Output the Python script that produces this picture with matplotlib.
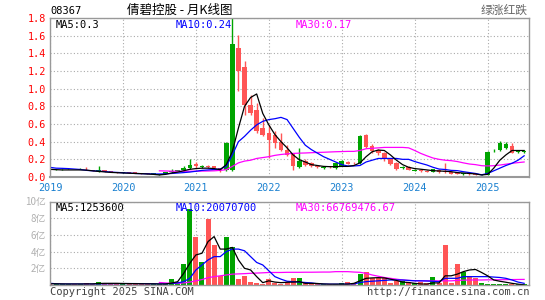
import numpy as np
import matplotlib
matplotlib.use('Agg')
from matplotlib import pyplot as plt

# monthly candles, Jan 2019 .. Jul 2025 (79 months)
opens = [0.09, 0.085, 0.088, 0.09, 0.09, 0.088, 0.095, 0.075, 0.065, 0.075,
         0.062, 0.058, 0.05, 0.054, 0.052, 0.042, 0.04, 0.035, 0.025, 0.035,
         0.06, 0.068, 0.075, 0.1, 0.15, 0.11, 0.13, 0.12, 0.1, 0.08,
         0.08, 1.46, 1.24, 0.81, 0.76, 0.55, 0.5, 0.48, 0.4, 0.31,
         0.255, 0.115, 0.18, 0.16, 0.125, 0.1, 0.12, 0.1, 0.125, 0.17,
         0.16, 0.155, 0.475, 0.35, 0.31, 0.267, 0.2, 0.16, 0.1, 0.115,
         0.07, 0.08, 0.07, 0.06, 0.08, 0.07, 0.06, 0.05, 0.03, 0.04,
         0.035, 0.022, 0.025, 0.29, 0.3, 0.33, 0.35, 0.28, 0.28]
highs = [0.095, 0.095, 0.095, 0.098, 0.094, 0.1, 0.108, 0.08, 0.12, 0.078,
         0.065, 0.06, 0.058, 0.056, 0.054, 0.045, 0.042, 0.042, 0.032, 0.062,
         0.085, 0.08, 0.125, 0.2, 0.165, 0.135, 0.14, 0.125, 0.105, 0.4,
         1.9, 1.61, 1.31, 0.93, 0.84, 0.67, 0.59, 0.52, 0.5, 0.36,
         0.27, 0.33, 0.2, 0.17, 0.135, 0.13, 0.125, 0.165, 0.19, 0.18,
         0.17, 0.47, 0.49, 0.37, 0.32, 0.28, 0.21, 0.17, 0.13, 0.12,
         0.09, 0.085, 0.075, 0.095, 0.085, 0.156, 0.065, 0.055, 0.05, 0.045,
         0.04, 0.035, 0.29, 0.32, 0.41, 0.4, 0.38, 0.31, 0.31]
lows = [0.08, 0.082, 0.083, 0.086, 0.085, 0.085, 0.08, 0.068, 0.06, 0.062,
        0.055, 0.048, 0.048, 0.048, 0.04, 0.038, 0.033, 0.033, 0.02, 0.03,
        0.05, 0.065, 0.07, 0.095, 0.1, 0.1, 0.1, 0.09, 0.06, 0.07,
        0.07, 0.975, 0.7, 0.7, 0.5, 0.46, 0.215, 0.33, 0.29, 0.234,
        0.08, 0.1, 0.12, 0.115, 0.1, 0.095, 0.1, 0.095, 0.12, 0.145,
        0.15, 0.15, 0.33, 0.27, 0.25, 0.18, 0.14, 0.08, 0.095, 0.075,
        0.065, 0.06, 0.055, 0.055, 0.05, 0.05, 0.03, 0.03, 0.025, 0.025,
        0.02, 0.02, 0.02, 0.28, 0.29, 0.32, 0.27, 0.27, 0.27]
closes = [0.085, 0.09, 0.092, 0.093, 0.088, 0.094, 0.085, 0.07, 0.075, 0.064,
          0.058, 0.05, 0.054, 0.05, 0.042, 0.04, 0.035, 0.04, 0.028, 0.06,
          0.07, 0.078, 0.1, 0.14, 0.12, 0.13, 0.11, 0.1, 0.08, 0.38,
          1.51, 1.2, 0.81, 0.72, 0.52, 0.48, 0.42, 0.385, 0.3, 0.245,
          0.12, 0.18, 0.14, 0.125, 0.11, 0.115, 0.11, 0.16, 0.18, 0.15,
          0.155, 0.463, 0.34, 0.29, 0.27, 0.2, 0.145, 0.09, 0.11, 0.08,
          0.08, 0.065, 0.06, 0.09, 0.055, 0.055, 0.035, 0.035, 0.045, 0.03,
          0.025, 0.03, 0.286, 0.3, 0.39, 0.37, 0.275, 0.29, 0.3]

ma5 = [0.087, 0.083, 0.08, 0.08, 0.08, 0.08, 0.078, 0.07, 0.063, 0.058,
       0.052, 0.049, 0.046, 0.043, 0.04, 0.038, 0.034, 0.03, 0.023, 0.03,
       0.045, 0.055, 0.071, 0.087, 0.095, 0.1, 0.1, 0.095, 0.083, 0.14,
       0.29, 0.555, 0.8, 0.9, 0.94, 0.72, 0.59, 0.48, 0.4, 0.33,
       0.25, 0.196, 0.17, 0.14, 0.13, 0.12, 0.117, 0.117, 0.12, 0.12,
       0.13, 0.16, 0.23, 0.286, 0.305, 0.3, 0.25, 0.19, 0.14, 0.11,
       0.095, 0.088, 0.08, 0.072, 0.068, 0.065, 0.06, 0.05, 0.045, 0.04,
       0.035, 0.023, 0.03, 0.1, 0.19, 0.25, 0.3, 0.3, 0.3]
ma10 = [0.109, 0.1, 0.098, 0.095, 0.09, 0.085, 0.075, 0.07, 0.066, 0.062,
        0.055, 0.052, 0.048, 0.045, 0.04, 0.038, 0.036, 0.034, 0.034, 0.036,
        0.04, 0.045, 0.05, 0.056, 0.065, 0.075, 0.08, 0.085, 0.09, 0.12,
        0.25, 0.4, 0.46, 0.53, 0.59, 0.63, 0.65, 0.66, 0.675, 0.65,
        0.55, 0.45, 0.36, 0.31, 0.27, 0.23, 0.2, 0.17, 0.14, 0.124,
        0.125, 0.13, 0.17, 0.19, 0.21, 0.21, 0.21, 0.21, 0.2, 0.2,
        0.175, 0.155, 0.136, 0.11, 0.09, 0.085, 0.075, 0.072, 0.06, 0.05,
        0.04, 0.025, 0.04, 0.07, 0.1, 0.13, 0.155, 0.19, 0.24]
ma30 = [np.nan] * 18 + [
        0.07, 0.068, 0.066, 0.065, 0.065, 0.065, 0.066, 0.067, 0.068, 0.07,
        0.075, 0.083, 0.12, 0.16, 0.18, 0.19, 0.21, 0.22, 0.23, 0.245,
        0.255, 0.262, 0.267, 0.27, 0.272, 0.275, 0.278, 0.28, 0.283, 0.286,
        0.288, 0.29, 0.29, 0.3, 0.32, 0.325, 0.33, 0.335, 0.335, 0.335,
        0.335, 0.33, 0.3, 0.267, 0.24, 0.215, 0.2, 0.19, 0.185, 0.175,
        0.16, 0.147, 0.14, 0.128, 0.125, 0.128, 0.135, 0.145, 0.155, 0.163,
        0.17]

# volume in 亿
volume = [0.2, 0.1, 0.1, 0.1, 0.1, 0.15, 0.2, 0.1, 0.35, 0.25,
          0.15, 0.15, 0.1, 0.2, 0.2, 0.1, 0.1, 0.12, 0.1, 0.15,
          0.68, 0.4, 2.48, 9.07, 5.7, 2.7, 7.87, 4.8, 1.12, 5.75,
          4.5, 0.68, 1.08, 0.32, 0.2, 0.15, 0.68, 0.2, 0.12, 0.3,
          0.88, 0.8, 0.2, 0.2, 0.15, 0.12, 0.1, 0.1, 0.2, 0.33,
          0.25, 1.28, 1.52, 0.88, 0.88, 0.8, 0.2, 0.5, 0.5, 0.3,
          0.2, 0.3, 0.2, 0.99, 0.2, 4.75, 0.2, 2.48, 1.52, 1.12,
          0.8, 0.2, 0.1, 0.1, 0.1, 0.1, 0.1, 0.15, 0.1]
vma5 = [0.15, 0.14, 0.13, 0.12, 0.12, 0.12, 0.13, 0.13, 0.18, 0.2,
        0.2, 0.2, 0.18, 0.17, 0.16, 0.15, 0.14, 0.14, 0.12, 0.12,
        0.23, 0.4, 1.4, 2.6, 3.6, 3.8, 5.2, 5.8, 4.3, 4.3,
        4.5, 3.0, 2.0, 1.8, 1.0, 0.28, 0.5, 0.35, 0.28, 0.33,
        0.35, 0.4, 0.2, 0.2, 0.18, 0.12, 0.1, 0.1, 0.1, 0.1,
        0.2, 0.5, 0.8, 0.85, 0.88, 0.85, 0.7, 0.55, 0.35, 0.3,
        0.2, 0.12, 0.1, 0.25, 0.25, 1.1, 1.1, 1.3, 1.6, 1.8,
        1.86, 1.5, 1.1, 0.6, 0.45, 0.33, 0.2, 0.1, 0.0125]
vma10 = [0.2, 0.15, 0.12, 0.12, 0.12, 0.12, 0.12, 0.12, 0.13, 0.14,
         0.15, 0.16, 0.17, 0.17, 0.17, 0.16, 0.15, 0.14, 0.13, 0.13,
         0.18, 0.25, 0.4, 0.8, 1.8, 2.4, 3.0, 3.4, 3.4, 4.0,
         4.3, 4.3, 4.1, 3.4, 2.7, 2.4, 1.7, 1.0, 0.7, 0.45,
         0.4, 0.35, 0.3, 0.25, 0.15, 0.12, 0.1, 0.1, 0.1, 0.12,
         0.12, 0.3, 0.4, 0.45, 0.5, 0.55, 0.6, 0.6, 0.6, 0.55,
         0.5, 0.5, 0.48, 0.45, 0.4, 0.8, 0.8, 0.8, 1.0, 1.0,
         1.0, 1.0, 1.0, 0.95, 0.9, 0.8, 0.6, 0.35, 0.2]
vma30 = [np.nan] * 18 + [
         0.3, 0.25, 0.2, 0.2, 0.25, 0.35, 0.5, 0.65, 0.88, 1.0,
         1.1, 1.2, 1.3, 1.33, 1.36, 1.4, 1.43, 1.46, 1.5, 1.5,
         1.5, 1.52, 1.52, 1.52, 1.53, 1.53, 1.54, 1.55, 1.55, 1.6,
         1.6, 1.6, 1.55, 1.52, 1.4, 1.2, 1.05, 0.9, 0.8, 0.7,
         0.6, 0.55, 0.52, 0.5, 0.5, 0.5, 0.5, 0.5, 0.5, 0.55,
         0.58, 0.6, 0.6, 0.6, 0.62, 0.62, 0.63, 0.64, 0.65, 0.66,
         0.67]

years = ['2019', '2020', '2021', '2022', '2023', '2024', '2025']
price_ticks = [0.0, 0.2, 0.4, 0.6, 0.8, 1.0, 1.2, 1.4, 1.6, 1.8]
vol_ticks = [2, 4, 6, 8, 10]
vol_labels = ['2亿', '4亿', '6亿', '8亿', '10亿']

W, H = 545, 300
RED = '#ff5555'
GREEN = '#00a400'
GRID = '#aaaaaa'
MONO = 'DejaVu Sans Mono'
CJK = ['Noto Sans CJK SC', 'DejaVu Sans']


def px_rect(l, t, r, b):
    return [l / W, 1 - b / H, (r - l) / W, (b - t) / H]


def style_axes(ax):
    for s in ax.spines.values():
        s.set_color('#999999')
        s.set_linewidth(1.0)
    ax.grid(True, color=GRID, linestyle=(0, (1, 2)), linewidth=0.8)
    ax.set_axisbelow(True)
    ax.tick_params(length=0)


fig = plt.figure(figsize=(W / 100, H / 100), dpi=100)
fig.patch.set_facecolor('white')

x = np.arange(len(closes))
o = np.array(opens)
c = np.array(closes)
up = c >= o
cols = [GREEN if u else RED for u in up]
xmax = 78.8

# price panel
ax = fig.add_axes(px_rect(50, 18, 529, 177))
style_axes(ax)
ax.vlines(x, lows, highs, colors=cols, linewidth=1)
body_h = np.maximum(np.abs(c - o), 0.006)
ax.bar(x, body_h, bottom=np.minimum(o, c), width=0.75, color=cols, linewidth=0)
ax.plot(x, ma30, color='#ff00ff', lw=0.9)
ax.plot(x, ma10, color='#0000ff', lw=0.9)
ax.plot(x, ma5, color='black', lw=0.9)
ax.set_xlim(0, xmax)
ax.set_ylim(0, 1.8)
ax.set_yticks(price_ticks)
ax.set_yticklabels(['%.1f' % v for v in price_ticks], color='red',
                   fontsize=7.3, family=MONO)
ax.set_xticks(np.arange(len(years)) * 12)
ax.set_xticklabels(years, color='#1a80d0', fontsize=7.3, family=MONO)
ax.tick_params(axis='y', pad=3)
ax.tick_params(axis='x', pad=4)
ax.spines['bottom'].set_linewidth(1.5)

ax.text(0.012, 0.99, 'MA5:0.3', transform=ax.transAxes, color='black',
        fontsize=7.5, family=MONO, va='top')
ax.text(0.262, 0.99, 'MA10:0.24', transform=ax.transAxes, color='#0000ff',
        fontsize=7.5, family=MONO, va='top')
ax.text(0.512, 0.99, 'MA30:0.17', transform=ax.transAxes, color='#ff00ff',
        fontsize=7.5, family=MONO, va='top')

# volume panel
vx = fig.add_axes(px_rect(50, 201.5, 529, 285))
style_axes(vx)
vx.bar(x, volume, width=0.82, color=cols, linewidth=0)
vx.plot(x, vma30, color='#ff00ff', lw=0.9)
vx.plot(x, vma10, color='#0000ff', lw=0.9)
vx.plot(x, vma5, color='black', lw=0.9)
vx.set_xlim(0, xmax)
vx.set_ylim(0, 10)
vx.set_yticks(vol_ticks)
vx.set_yticklabels(vol_labels, color='#b0b0b0', fontsize=7, family=CJK)
vx.set_xticks(np.arange(len(years)) * 12)
vx.set_xticklabels([])
vx.tick_params(axis='y', pad=3)

vx.text(0.012, 0.985, 'MA5:1253600', transform=vx.transAxes, color='black',
        fontsize=7.5, family=MONO, va='top')
vx.text(0.262, 0.985, 'MA10:20070700', transform=vx.transAxes, color='#0000ff',
        fontsize=7.5, family=MONO, va='top')
vx.text(0.512, 0.985, 'MA30:66769476.67', transform=vx.transAxes,
        color='#ff00ff', fontsize=7.5, family=MONO, va='top')

# header / footer
fig.text(50 / W, 1 - 11 / H, '08367', fontsize=7.5, family=MONO,
         color='black', va='center')
fig.text(180 / W, 1 - 10 / H, '倩碧控股 - 月K线图', fontsize=9, family=CJK,
         color='black', ha='center', va='center')
fig.text(528 / W, 1 - 10 / H, '绿涨红跌', fontsize=8.5, family=CJK,
         color='#666666', ha='right', va='center')
fig.text(50 / W, 1 - 292 / H, 'Copyright 2025 SINA.COM', fontsize=7.5,
         family=MONO, color='#444444', va='center')
fig.text(529 / W, 1 - 292 / H, 'http://finance.sina.com.cn', fontsize=7.5,
         family=MONO, color='#444444', ha='right', va='center')

fig.savefig('out.png', dpi=100, facecolor='white')
